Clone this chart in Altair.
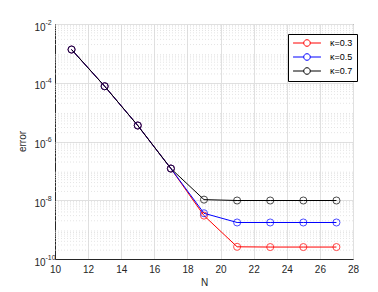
import altair as alt
import pandas as pd

N = [11, 13, 15, 17, 19, 21, 23, 25, 27]
err_03 = [1.35e-3, 7.6e-5, 3.5e-6, 1.2e-7, 3.0e-9, 2.6e-10, 2.55e-10, 2.55e-10, 2.55e-10]
err_05 = [1.35e-3, 7.6e-5, 3.5e-6, 1.2e-7, 3.6e-9, 1.75e-9, 1.75e-9, 1.75e-9, 1.75e-9]
err_07 = [1.35e-3, 7.6e-5, 3.5e-6, 1.2e-7, 1.05e-8, 9.8e-9, 9.8e-9, 9.8e-9, 9.8e-9]
series = ["κ=0.3", "κ=0.5", "κ=0.7"]
colors = ["#ff0000", "#0000ff", "#000000"]

x_ticks = [10, 12, 14, 16, 18, 20, 22, 24, 26, 28]
y_major = [1e-10, 1e-8, 1e-6, 1e-4, 1e-2]
y_base_label = "10"
y_exponents = ["-10", "-8", "-6", "-4", "-2"]
y_minor = [k * 10.0 ** e for e in range(-10, -2) for k in range(2, 10)]

rows = []
for s, vals in zip(series, [err_03, err_05, err_07]):
    for n, v in zip(N, vals):
        rows.append({"N": n, "error": v, "series": s, "order": series.index(s)})
df = pd.DataFrame(rows)
minor_df = pd.DataFrame({"error": y_minor})

exp_expr = ""
for v, lab in zip(y_major, y_exponents):
    e = int(lab)
    exp_expr += f"round(log(datum.value)/LN10) == {e} ? '{lab}' : "
exp_expr += "''"

FONT = "Liberation Sans"
TXT = "#262626"

xscale = alt.Scale(domain=[10, 28], nice=False)
yscale = alt.Scale(type="log", domain=[1e-10, 1e-2], nice=False)

x_axis = alt.Axis(
    values=x_ticks,
    title="N",
    grid=True,
    gridColor="#e0e0e0",
    ticks=False,
    labelPadding=5,
    titlePadding=3,
    domainColor=TXT,
    labelOverlap=False,
    labelFlush=False,
)
y_axis_base = alt.Axis(
    values=y_major,
    labelExpr=f"'{y_base_label}'",
    title="error",
    titleX=-28,
    titleY=117,
    titleAngle=270,
    titleAlign="center",
    titleBaseline="bottom",
    grid=True,
    gridColor="#e0e0e0",
    ticks=False,
    labelAlign="left",
    labelPadding=21,
    labelOffset=3,
    domainColor=TXT,
    labelOverlap=False,
    labelFlush=False,
    orient="left",
)
y_axis_exp = alt.Axis(
    values=y_major,
    labelExpr=exp_expr,
    title=None,
    grid=False,
    ticks=False,
    domain=False,
    labelAlign="left",
    labelPadding=10,
    labelOffset=-2,
    labelFontSize=7,
    labelOverlap=False,
    labelFlush=False,
    orient="left",
)

sym = "M-3.1,0H-0.73M0.73,0H3.1M-0.73,0A0.73,0.73 0 1,0 0.73,0A0.73,0.73 0 1,0 -0.73,0"

color = alt.Color(
    "series:N",
    scale=alt.Scale(domain=series, range=colors),
    legend=alt.Legend(
        title=None,
        orient="none",
        legendX=233,
        legendY=10,
        symbolType=sym,
        symbolSize=81,
        symbolStrokeWidth=1,
        symbolOffset=10,
        labelOffset=18,
        labelFont=FONT,
        labelFontSize=9,
        labelColor="#000000",
        rowPadding=2,
        padding=4,
        strokeColor="#000000",
        fillColor="#ffffff",
        cornerRadius=0,
    ),
)

minor = alt.Chart(minor_df).mark_rule(color="#d8d8d8", strokeDash=[1, 2], strokeWidth=0.7).encode(
    y=alt.Y("error:Q", scale=yscale, axis=None),
)

lines = alt.Chart(df).mark_line(strokeWidth=1).encode(
    x=alt.X("N:Q", scale=xscale, axis=x_axis),
    y=alt.Y("error:Q", scale=yscale, axis=y_axis_base),
    color=color,
)

points = alt.Chart(df).mark_point(filled=False, size=50, strokeWidth=1).encode(
    x=alt.X("N:Q", scale=xscale, axis=x_axis),
    y=alt.Y("error:Q", scale=yscale, axis=y_axis_exp),
    color=alt.Color("series:N", scale=alt.Scale(domain=series, range=colors), legend=None),
    order="order:Q",
)

chart = (
    alt.layer(minor, lines, points)
    .resolve_scale(y="shared")
    .resolve_axis(y="independent")
    .properties(
        width=298,
        height=235,
        autosize=alt.AutoSizeParams(type="none"),
        padding={"left": 47, "top": 16, "right": 17, "bottom": 28},
        background="#ffffff",
    )
    .configure_view(stroke=TXT, strokeWidth=1)
    .configure_axis(
        labelFont=FONT,
        labelFontSize=10,
        labelColor=TXT,
        titleFont=FONT,
        titleFontSize=10,
        titleFontWeight="normal",
        titleColor=TXT,
    )
)

chart.save("out.html", embed_options={"renderer": "svg", "actions": False})
